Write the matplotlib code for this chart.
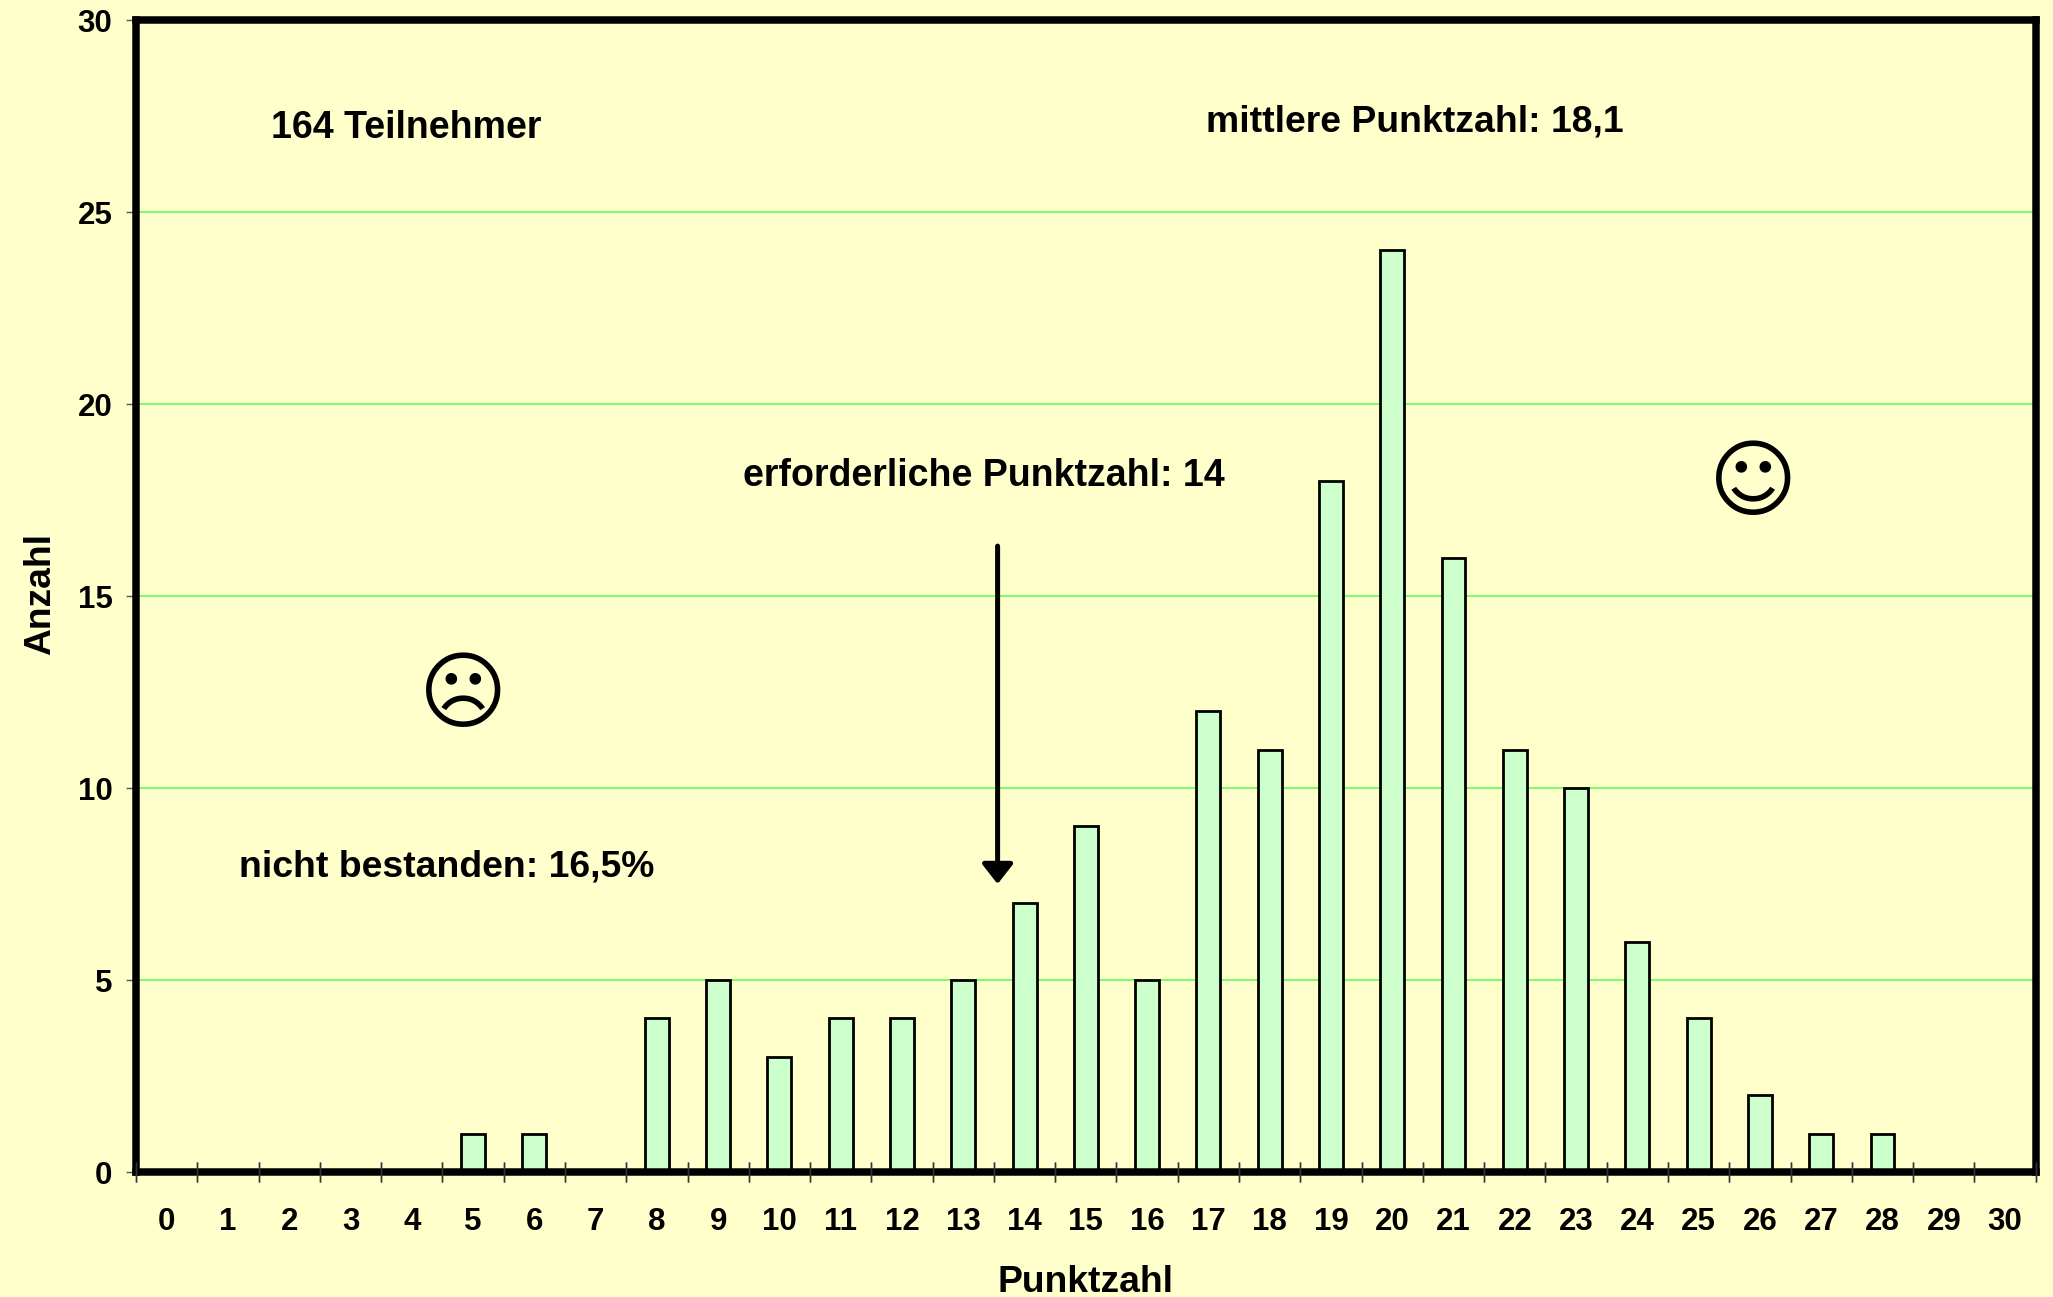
#!/usr/bin/env python3
"""Punktzahl histogram, 164 Teilnehmer."""

import matplotlib

matplotlib.use("Agg")

import matplotlib.pyplot as plt

W, H = 2053, 1297
BG, BAR, GRID = "#FFFFCC", "#CCFFCC", "#66FF66"

punkte = list(range(31))
anzahl = [0, 0, 0, 0, 0, 1, 1, 0, 4, 5, 3, 4, 4, 5, 7, 9, 5, 12, 11, 18, 24,
          16, 11, 10, 6, 4, 2, 1, 1, 0, 0]
y_ticks = [0, 5, 10, 15, 20, 25, 30]

plt.rcParams.update({"font.family": ["Liberation Sans", "DejaVu Sans"], "font.weight": "bold"})


def fx(x):
    return x / W


def fy(y):
    return 1 - y / H


fig = plt.figure(figsize=(W / 100, H / 100), dpi=100, facecolor=BG)
left, right, top, bottom = 136, 2035.7, 20, 1172
ax = fig.add_axes([fx(left), fy(bottom), fx(right - left), (bottom - top) / H], facecolor=BG)

ax.bar(punkte, anzahl, width=0.39, color=BAR, edgecolor="black", linewidth=2, zorder=3)
ax.set_xlim(-0.5, 30.5)
ax.set_ylim(0, 30)
ax.set_axisbelow(True)
ax.yaxis.grid(True, color=GRID, lw=1.3)

for s in ax.spines.values():
    s.set_linewidth(5.4)
    s.set_zorder(5)

ax.set_yticks(y_ticks)
ax.tick_params(axis="y", length=7.5, width=1, color="#555555", labelsize=22.5, pad=9.5)
ax.set_xticks(punkte)
ax.tick_params(axis="x", length=0, labelsize=22.5, pad=25)
# tick marks between the categories, crossing the axis line
for i in range(32):
    ax.plot([i - 0.5] * 2, [0, 0], marker="|", ms=15, mew=1, color="#333333",
            clip_on=False, zorder=6)

fig.text(fx(1085), fy(1282), "Punktzahl", ha="center", va="center", fontsize=26.8)
fig.text(fx(41), fy(594), "Anzahl", ha="center", va="center", rotation=90, fontsize=26.8)

fig.text(fx(271), fy(128), "164 Teilnehmer", va="center", fontsize=27)
fig.text(fx(1206), fy(122), "mittlere Punktzahl: 18,1", va="center", fontsize=26.9)
fig.text(fx(743), fy(476), "erforderliche Punktzahl: 14", va="center", fontsize=27)
fig.text(fx(239), fy(867), "nicht bestanden: 16,5%", va="center", fontsize=26.9)

fig.text(fx(1753), fy(486), "\u263A", ha="center", va="center", fontsize=61,
         family="DejaVu Sans", weight="normal")
fig.text(fx(463), fy(698), "\u2639", ha="center", va="center", fontsize=61,
         family="DejaVu Sans", weight="normal")

ax.annotate("", xy=(13.56, 7.5), xytext=(13.56, 16.3), zorder=7,
            arrowprops=dict(arrowstyle="-|>,head_length=0.6,head_width=0.47", color="black",
                            lw=3.6, shrinkA=0, shrinkB=0, mutation_scale=20))

fig.savefig("out.png", dpi=100, facecolor=BG)
